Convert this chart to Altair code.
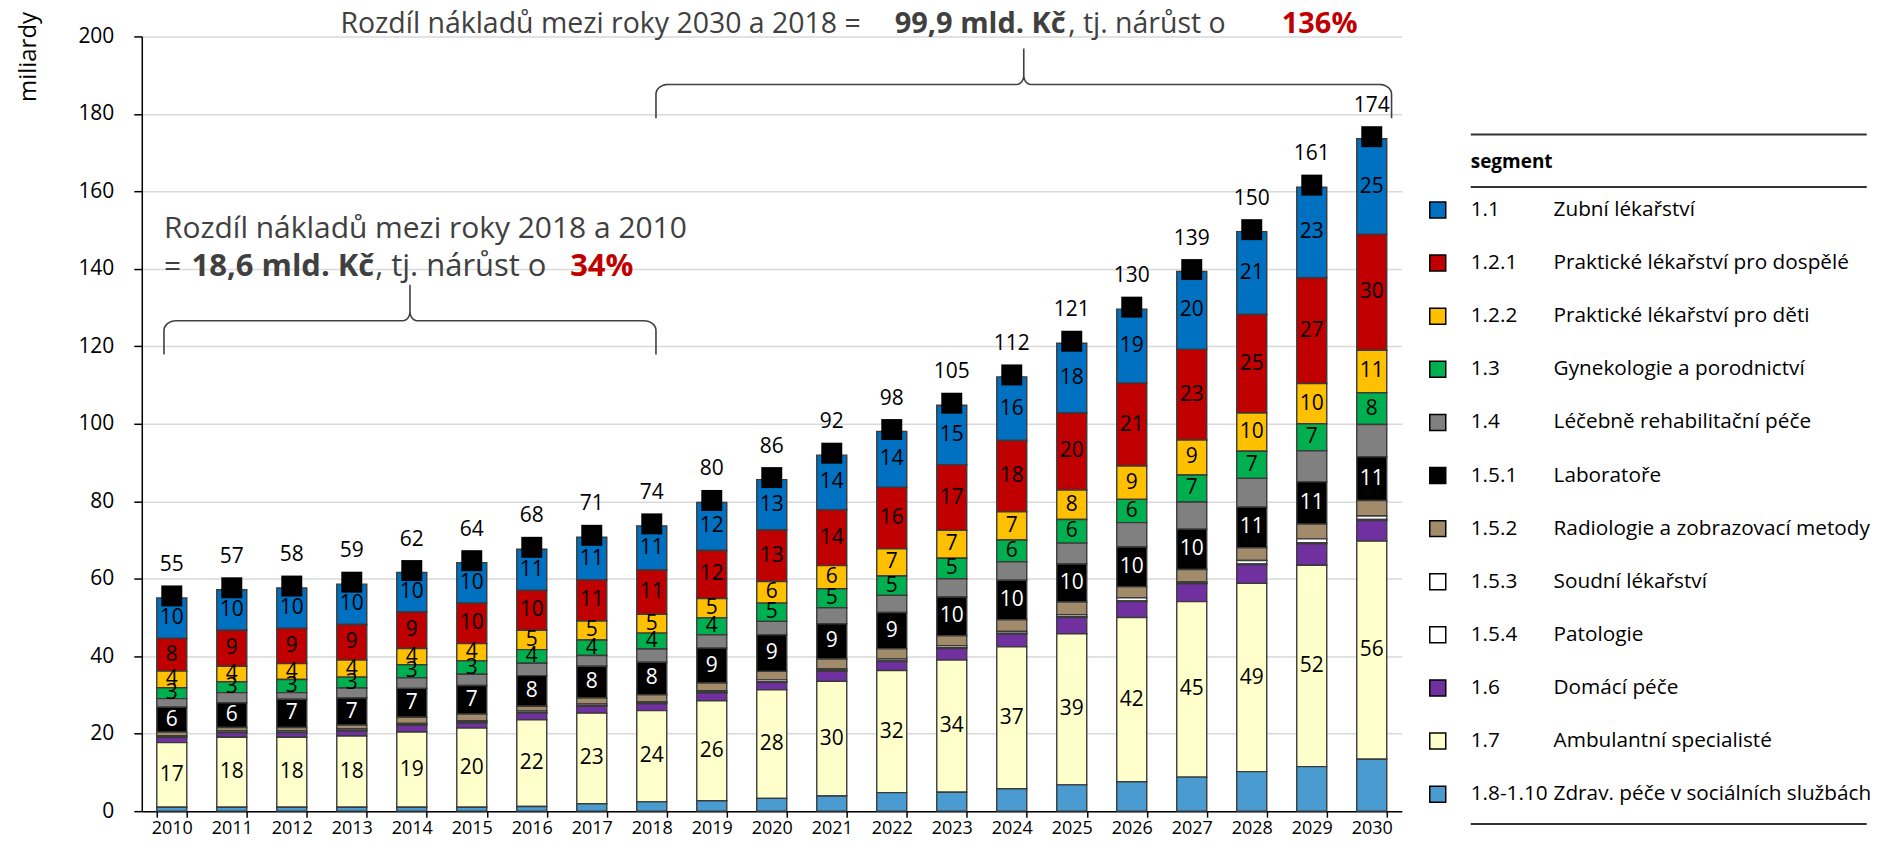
import math
import altair as alt
import pandas as pd

# ---------------- data ----------------
years = [str(y) for y in range(2010, 2031)]

seg_codes = ["1.1", "1.2.1", "1.2.2", "1.3", "1.4", "1.5.1", "1.5.2",
             "1.5.3", "1.5.4", "1.6", "1.7", "1.8-1.10"]
seg_names = ["Zubní lékařství", "Praktické lékařství pro dospělé",
             "Praktické lékařství pro děti", "Gynekologie a porodnictví",
             "Léčebně rehabilitační péče", "Laboratoře",
             "Radiologie a zobrazovací metody", "Soudní lékařství", "Patologie",
             "Domácí péče", "Ambulantní specialisté",
             "Zdrav. péče v sociálních službách"]
seg_colors = ["#0070C0", "#C00000", "#FFC000", "#00B050", "#808080", "#000000",
              "#A18B6B", "#FFFFFF", "#FFFFFF", "#7030A0", "#FFFFCC", "#4A9BD0"]

v_1_1 = [10.45, 10.45, 10.4, 10.4, 10.2, 10.45, 10.6, 11.0, 11.4, 12.4, 13.0,
         14.1, 14.4, 15.4, 16.4, 18.0, 19.1, 20.1, 21.4, 23.4, 24.7]
v_1_2_1 = [8.45, 9.3, 9.1, 9.2, 9.4, 10.45, 10.3, 10.6, 11.4, 12.4, 13.3,
           14.4, 15.9, 16.9, 18.4, 19.9, 21.4, 23.4, 25.4, 27.3, 29.9]
v_1_2_2 = [4.3, 4.0, 4.1, 4.4, 4.2, 4.45, 5.0, 4.9, 4.9, 5.0, 5.6,
           6.0, 7.0, 7.2, 7.3, 7.6, 8.6, 9.0, 9.9, 10.4, 11.0]
v_1_3 = [2.8, 2.8, 3.4, 2.8, 3.4, 3.45, 3.5, 4.0, 4.1, 4.4, 4.7,
         4.9, 5.0, 5.3, 5.6, 6.1, 6.0, 7.0, 7.0, 7.0, 8.2]
v_1_4 = [2.2, 2.6, 1.7, 2.6, 2.7, 2.9, 3.2, 2.8, 3.4, 3.4, 3.5,
         4.1, 4.4, 4.7, 4.8, 5.4, 6.3, 7.0, 7.4, 8.0, 8.3]
v_1_5_1 = [6.45, 6.4, 7.3, 7.0, 7.45, 7.4, 7.9, 8.2, 8.4, 9.0, 9.4,
           9.1, 9.4, 10.0, 10.2, 9.8, 10.3, 10.4, 10.5, 10.9, 11.3]
v_1_5_2 = [0.9, 0.8, 0.8, 0.9, 1.6, 1.7, 1.2, 1.5, 1.8, 2.0, 2.2,
           2.6, 2.6, 2.6, 3.0, 3.3, 2.8, 3.2, 3.3, 3.8, 4.0]
v_1_5_3 = [0.3, 0.4, 0.4, 0.4, 0.3, 0.4, 0.4, 0.4, 0.3, 0.4, 0.5,
           0.4, 0.5, 0.5, 0.5, 0.5, 0.8, 0.3, 0.9, 1.0, 0.9]
v_1_5_4 = [0.2, 0.2, 0.2, 0.2, 0.2, 0.2, 0.2, 0.2, 0.2, 0.2, 0.2,
           0.2, 0.2, 0.2, 0.2, 0.2, 0.2, 0.2, 0.2, 0.3, 0.3]
v_1_6 = [1.3, 1.1, 1.1, 1.3, 1.7, 1.3, 1.7, 1.8, 1.8, 2.0, 1.9,
         2.6, 2.3, 3.0, 3.3, 4.2, 4.1, 4.6, 4.8, 5.5, 5.3]
v_1_7 = [16.7, 18.1, 18.1, 18.4, 19.45, 20.45, 22.4, 23.4, 23.55, 25.8, 28.0,
         29.6, 31.5, 34.1, 36.6, 39.0, 42.4, 45.3, 48.6, 52.0, 56.3]
v_1_8 = [1.0, 1.0, 1.0, 1.0, 1.0, 1.0, 1.2, 1.9, 2.4, 2.7, 3.3,
         3.9, 4.8, 4.9, 5.8, 6.8, 7.6, 8.8, 10.2, 11.5, 13.4]

seg_values = [v_1_1, v_1_2_1, v_1_2_2, v_1_3, v_1_4, v_1_5_1, v_1_5_2,
              v_1_5_3, v_1_5_4, v_1_6, v_1_7, v_1_8]
labelled_codes = ["1.1", "1.2.1", "1.2.2", "1.3", "1.5.1", "1.7"]

# annotation texts
note1_line1 = "Rozdíl nákladů mezi roky 2018 a 2010"
note1_parts = ["=", "18,6 mld. Kč", ", tj. nárůst o", "34%"]
note2_parts = ["Rozdíl nákladů mezi roky 2030 a 2018 =", "99,9 mld. Kč",
               ", tj. nárůst o", "136%"]
legend_title = "segment"

# ---------------- tables ----------------
rows = []
n_seg = len(seg_codes)
for si, code in enumerate(seg_codes):
    for yi, yr in enumerate(years):
        rows.append({
            "year": yr,
            "code": code,
            "value": seg_values[si][yi],
            "ord": n_seg - 1 - si,
            "lab": code in labelled_codes,
            "tcol": "#FFFFFF" if code == "1.5.1" else "#000000",
        })
long_df = pd.DataFrame(rows)

# braces (year index on x, value on y)
brace_x0 = [-0.13, 8.07]
brace_x1 = [8.07, 20.33]
brace_line = [126.6, 187.6]
brace_end = [117.9, 178.9]
brace_tip = [135.9, 196.9]

RX, RY = 0.2, 2.5      # end corner radii (index units, value units)
TX, TY = 0.12, 2.4     # tip curve radii


def arc(cx, cy, rx, ry, a0, a1, n=8):
    pts = []
    for k in range(n + 1):
        t = math.radians(a0 + (a1 - a0) * k / n)
        pts.append((cx + rx * math.cos(t), cy + ry * math.sin(t)))
    return pts


brace_rows = []
for b in range(len(brace_x0)):
    x0, x1 = brace_x0[b], brace_x1[b]
    yl, ye_, yt = brace_line[b], brace_end[b], brace_tip[b]
    xm = (x0 + x1) / 2
    pts = [(x0, ye_)]
    pts += arc(x0 + RX, yl - RY, RX, RY, 180, 90)
    pts += arc(xm - TX, yl + TY, TX, TY, 270, 360)
    pts += [(xm, yt)]
    pts += arc(xm + TX, yl + TY, TX, TY, 180, 270)
    pts += arc(x1 - RX, yl - RY, RX, RY, 90, 0)
    pts += [(x1, ye_)]
    for i, (px, py) in enumerate(pts):
        brace_rows.append({"brace": b, "i": i, "xi": px, "yv": py})
brace_df = pd.DataFrame(brace_rows)

RED = "#C00000"
GREY = "#404040"
TOP_Y = 200.77
text_rows = [
    {"xi": -0.13, "yv": 147.9, "t": note1_line1, "bold": False, "c": GREY, "s": 30},
    {"xi": -0.13, "yv": 138.1, "t": note1_parts[0], "bold": False, "c": GREY, "s": 30},
    {"xi": 0.33, "yv": 138.1, "t": note1_parts[1], "bold": True, "c": GREY, "s": 31},
    {"xi": 3.39, "yv": 138.1, "t": note1_parts[2], "bold": False, "c": GREY, "s": 31},
    {"xi": 6.64, "yv": 138.1, "t": note1_parts[3], "bold": True, "c": RED, "s": 31},
    {"xi": 2.81, "yv": TOP_Y, "t": note2_parts[0], "bold": False, "c": GREY, "s": 28.5},
    {"xi": 12.05, "yv": TOP_Y, "t": note2_parts[1], "bold": True, "c": GREY, "s": 29},
    {"xi": 14.94, "yv": TOP_Y, "t": note2_parts[2], "bold": False, "c": GREY, "s": 28.5},
    {"xi": 18.50, "yv": TOP_Y, "t": note2_parts[3], "bold": True, "c": RED, "s": 29},
]
text_df = pd.DataFrame(text_rows)

# legend placed to the right of the plot (index units on x, value units on y)
LEG_SYM_X, LEG_CODE_X, LEG_NAME_X, LEG_END_X = 21.10, 21.65, 23.03, 28.25
LEG_ROW0, LEG_STEP = 155.2, 13.71
legend_df = pd.DataFrame({
    "code": seg_codes, "name": seg_names,
    "yv": [LEG_ROW0 - LEG_STEP * k for k in range(n_seg)],
})
leg_rule_df = pd.DataFrame({"yv": [174.7, 161.1, -3.3]})
leg_title_df = pd.DataFrame({"yv": [167.6], "t": [legend_title]})

FONT = "Open Sans"

# ---------------- chart ----------------
yscale = alt.Scale(domain=[0, 200], nice=False)
xscale = alt.Scale(paddingInner=0.5, paddingOuter=0.25)
color_scale = alt.Scale(domain=seg_codes, range=seg_colors)

x_axis = alt.Axis(title=None, labelAngle=0, tickBand="extent",
                  domainColor="#000000", domainWidth=1.5,
                  tickColor="#000000", tickSize=6, tickWidth=1.5,
                  labelFontSize=18, labelPadding=2,
                  labelColor="#000000", grid=False)
y_axis = alt.Axis(values=list(range(0, 201, 20)), title="miliardy",
                  grid=True, gridColor="#D9D9D9", gridWidth=1.5,
                  domainColor="#000000", domainWidth=1.5,
                  tickColor="#000000", tickSize=8, tickWidth=1.5,
                  labelFontSize=21, labelPadding=20, labelColor="#000000",
                  titleFontSize=24, titleFontWeight="normal",
                  titleColor="#000000", titleAngle=270,
                  titleAlign="right", titleBaseline="alphabetic",
                  titleX=-106, titleY=-25)


def xe():
    return alt.X("year:N", scale=xscale, sort=years, axis=x_axis)


def ye(field):
    return alt.Y(field, scale=yscale, axis=y_axis)


ann_x = alt.Scale(domain=[-0.5, 20.5], nice=False, zero=False)


def xa(field="xi:Q"):
    return alt.X(field, scale=ann_x, axis=None)


stacked = alt.Chart(long_df).transform_stack(
    stack="value", groupby=["year"], sort=[alt.SortField("ord", order="ascending")],
    as_=["y0", "y1"]
).transform_calculate(mid="(datum.y0 + datum.y1) / 2")

bars = stacked.mark_bar(stroke="#3A3A3A", strokeWidth=1.4).encode(
    x=xe(),
    y=ye("y0:Q"),
    y2="y1:Q",
    color=alt.Color("code:N", scale=color_scale, legend=None),
)

seg_labels = stacked.transform_filter("datum.lab").mark_text(
    fontSize=21, align="center", baseline="middle"
).encode(
    x=xe(),
    y=ye("mid:Q"),
    text=alt.Text("value:Q", format=".0f"),
    color=alt.Color("tcol:N", scale=None),
)

totals = alt.Chart(long_df).transform_aggregate(
    total="sum(value)", groupby=["year"]
)

squares = totals.mark_square(size=441, color="#000000", opacity=1,
                             yOffset=-2).encode(
    x=xe(),
    y=ye("total:Q"),
)

total_labels = totals.mark_text(fontSize=21, baseline="alphabetic",
                                align="center", dy=-27, color="#000000").encode(
    x=xe(),
    y=ye("total:Q"),
    text=alt.Text("total:Q", format=".0f"),
)

braces = alt.Chart(brace_df).mark_line(color=GREY, strokeWidth=1.6).encode(
    x=xa(),
    y=ye("yv:Q"),
    detail="brace:N",
    order="i:Q",
)

txt_normal = alt.Chart(text_df).transform_filter("!datum.bold").mark_text(
    align="left", baseline="alphabetic"
).encode(
    x=xa(),
    y=ye("yv:Q"),
    text="t:N",
    size=alt.Size("s:Q", scale=None, legend=None),
    color=alt.Color("c:N", scale=None),
)
txt_bold = alt.Chart(text_df).transform_filter("datum.bold").mark_text(
    align="left", baseline="alphabetic", fontWeight="bold"
).encode(
    x=xa(),
    y=ye("yv:Q"),
    text="t:N",
    size=alt.Size("s:Q", scale=None, legend=None),
    color=alt.Color("c:N", scale=None),
)

# legend marks
leg_rules = alt.Chart(leg_rule_df).transform_calculate(
    x0=str(LEG_CODE_X), x1=str(LEG_END_X)
).mark_rule(color="#333333", strokeWidth=2).encode(
    x=xa("x0:Q"), x2="x1:Q", y=ye("yv:Q"))

leg_title = alt.Chart(leg_title_df).transform_calculate(
    x0=str(LEG_CODE_X)
).mark_text(fontSize=19, fontWeight="bold", align="left", baseline="middle",
            color="#000000").encode(x=xa("x0:Q"), y=ye("yv:Q"), text="t:N")

leg_sym = alt.Chart(legend_df).transform_calculate(
    x0=str(LEG_SYM_X)
).mark_square(size=256, stroke="#000000", strokeWidth=1.5, opacity=1).encode(
    x=xa("x0:Q"), y=ye("yv:Q"),
    fill=alt.Color("code:N", scale=color_scale, legend=None),
)
leg_code = alt.Chart(legend_df).transform_calculate(
    x0=str(LEG_CODE_X)
).mark_text(fontSize=20.8, align="left", baseline="middle",
            color="#000000").encode(x=xa("x0:Q"), y=ye("yv:Q"), text="code:N")
leg_name = alt.Chart(legend_df).transform_calculate(
    x0=str(LEG_NAME_X)
).mark_text(fontSize=20.8, align="left", baseline="middle",
            color="#000000").encode(x=xa("x0:Q"), y=ye("yv:Q"), text="name:N")

data_layer = alt.layer(bars, seg_labels, squares, total_labels)
ann_layer = alt.layer(braces, txt_normal, txt_bold, leg_rules, leg_title,
                      leg_sym, leg_code, leg_name)

chart = alt.layer(data_layer, ann_layer).resolve_scale(
    x="independent"
).properties(
    width=1262, height=776,
    padding={"left": 9, "top": 1.8, "right": 0, "bottom": 0},
).configure(font=FONT).configure_view(stroke=None)

chart.save("out.html", embed_options={"renderer": "svg", "actions": False})
